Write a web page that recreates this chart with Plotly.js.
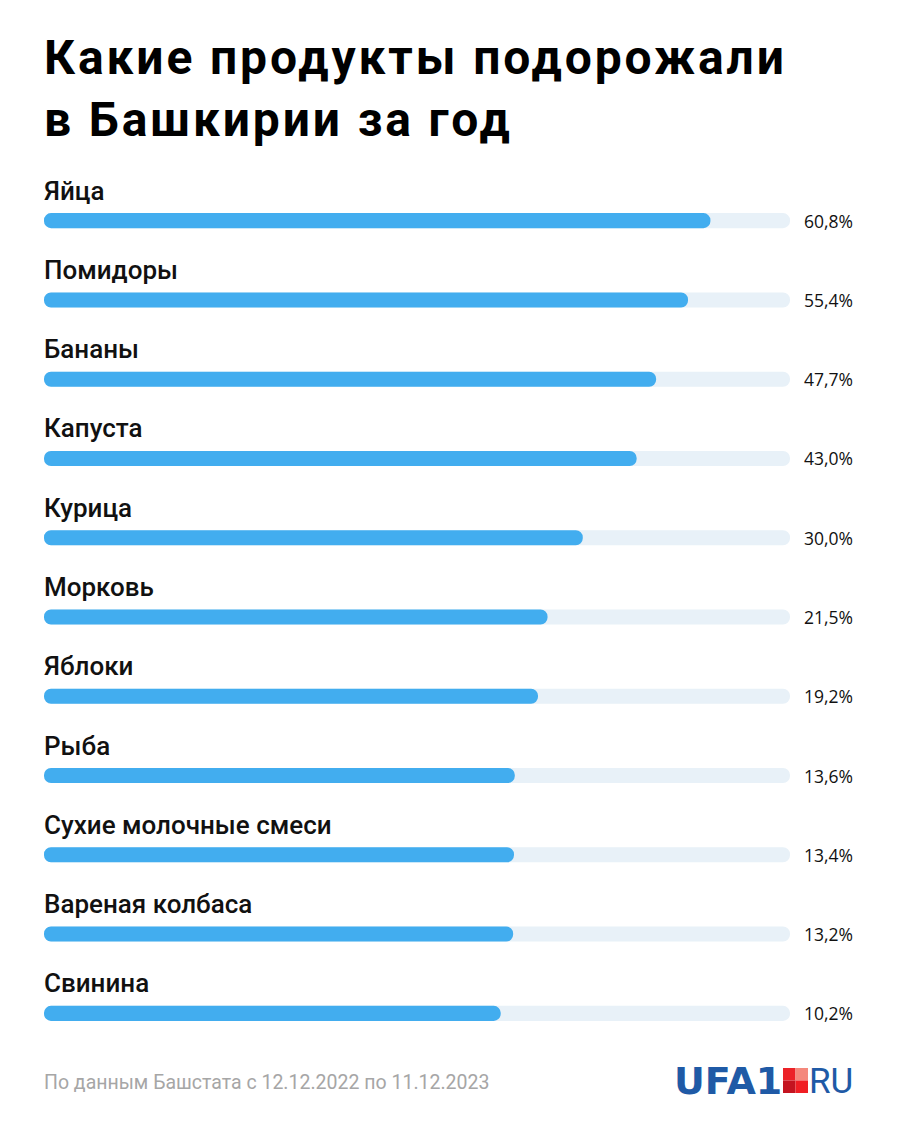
<!DOCTYPE html>
<html>
<head>
<meta charset="utf-8">
<script src="https://cdn.plot.ly/plotly-3.0.1.min.js"></script>
<style>
  body { margin: 0; background: #fff; }
  #chart { width: 900px; height: 1125px; }
  /* the original headline is slightly tracked out */
  #chart .gtitle { letter-spacing: 0.06em; }
</style>
</head>
<body>
<div id="chart"></div>
<script>
// data
const products = ['Яйца', 'Помидоры', 'Бананы', 'Капуста', 'Курица', 'Морковь',
  'Яблоки', 'Рыба', 'Сухие молочные смеси', 'Вареная колбаса', 'Свинина'];
const growth = [60.8, 55.4, 47.7, 43.0, 30.0, 21.5, 19.2, 13.6, 13.4, 13.2, 10.2];

const titleText = 'Какие продукты подорожали<br>в Башкирии за год';
const sourceText = 'По данным Башстата с 12.12.2022 по 11.12.2023';

// page geometry
const W = 900, H = 1125;
const mL = 44, mR = 110, mT = 181, mB = 72;
const plotH = H - mT - mB;
const py = px => (H - mB - px) / plotH;   // pixel y -> paper y
const plotW = W - mL - mR;
const pxx = px => (px - mL) / plotW;      // pixel x -> paper x

const blue = '#42adef';
const track = '#e8f1f8';
const logoBlue = '#1f5aa6';

// background track, rounded on the right end
const trackTrace = {
  type: 'bar', orientation: 'h',
  y: products,
  base: products.map(() => -100),
  x: products.map(() => 180),
  width: 0.19,
  marker: { color: track, cornerradius: '50%' },
  hoverinfo: 'skip'
};

// value bars (drawn from the value back to the start so the rounded tip is on the left)
const valueTrace = {
  type: 'bar', orientation: 'h',
  y: products,
  base: growth,
  x: growth.map(v => -100 - v),
  width: 0.19,
  marker: { color: blue, cornerradius: '50%' },
  hoverinfo: 'skip'
};

const annotations = [];
products.forEach((p, i) => {
  annotations.push({
    xref: 'paper', yref: 'y', x: 0, y: p, xanchor: 'left', yanchor: 'middle',
    xshift: -2, yshift: 30, showarrow: false, text: p,
    font: { family: 'Roboto', size: 26, weight: 500, color: '#111' }
  });
  annotations.push({
    xref: 'paper', yref: 'y', x: 1, y: p, xanchor: 'left', yanchor: 'middle',
    xshift: 12, showarrow: false,
    text: growth[i].toFixed(1).replace('.', ',') + '%',
    font: { family: 'Open Sans', size: 17.5, color: '#111' }
  });
});

// source line
annotations.push({
  xref: 'paper', yref: 'paper', x: 0, y: py(1082), xanchor: 'left', yanchor: 'middle',
  xshift: -2, showarrow: false, text: sourceText,
  font: { family: 'Roboto', size: 19.5, color: '#a6a6a6' }
});

// logo
annotations.push({
  xref: 'paper', yref: 'paper', x: pxx(784), y: py(1081), xanchor: 'right', yanchor: 'middle',
  showarrow: false, text: '<b>UFA1</b>',
  font: { family: 'DejaVu Sans', size: 38, color: logoBlue }
});
annotations.push({
  xref: 'paper', yref: 'paper', x: pxx(807), y: py(1081), xanchor: 'left', yanchor: 'middle',
  showarrow: false, text: 'RU',
  font: { family: 'Roboto', size: 35, color: logoBlue }
});

const sq = (x0, y0, c) => ({
  type: 'rect', xref: 'paper', yref: 'paper', line: { width: 0 }, fillcolor: c,
  x0: pxx(x0), x1: pxx(x0 + 12.5), y0: py(y0 + 12.5), y1: py(y0)
});
const shapes = [
  sq(783, 1068, '#ec2228'),
  sq(795.5, 1068, '#f4887c'),
  sq(783, 1080.5, '#c41420'),
  sq(795.5, 1080.5, '#f01e24')
];

const layout = {
  width: W, height: H,
  margin: { l: mL, r: mR, t: mT, b: mB },
  paper_bgcolor: '#fff', plot_bgcolor: '#fff',
  barmode: 'overlay',
  showlegend: false,
  title: {
    text: '<b>' + titleText + '</b>',
    x: mL / W, xanchor: 'left', xref: 'container',
    y: 1 - 74 / H, yanchor: 'top', yref: 'container',
    font: { family: 'Roboto', size: 48, color: '#000' }
  },
  xaxis: { range: [-100, 80], visible: false, fixedrange: true },
  yaxis: {
    type: 'category', categoryorder: 'array', categoryarray: products,
    range: [products.length - 0.5, -0.5], visible: false, fixedrange: true
  },
  annotations: annotations,
  shapes: shapes
};

Plotly.newPlot('chart', [trackTrace, valueTrace], layout, { staticPlot: true });
</script>
</body>
</html>
